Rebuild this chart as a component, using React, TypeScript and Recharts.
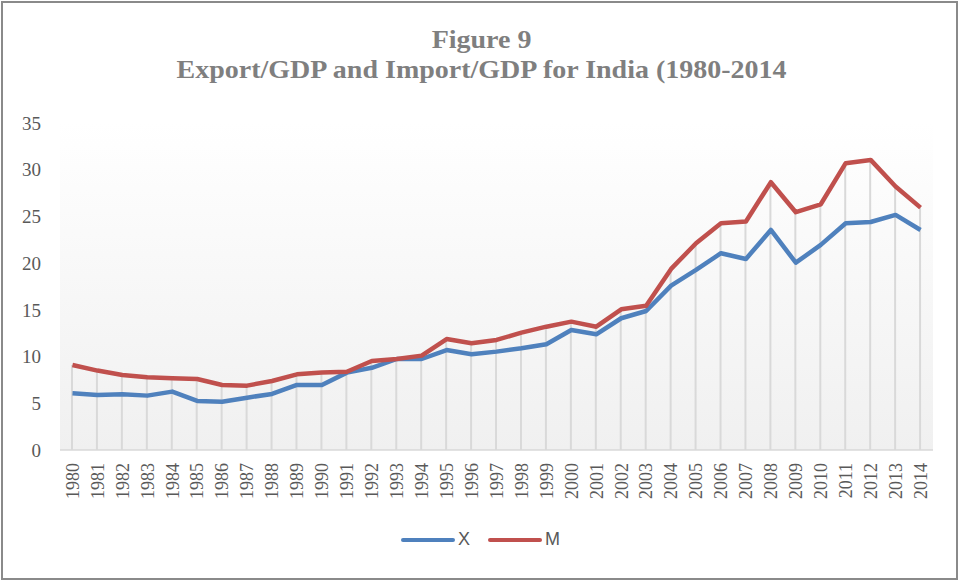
import { ComposedChart, Line, Bar, XAxis, YAxis, CartesianGrid, Legend } from 'recharts';

const years = [
  '1980', '1981', '1982', '1983', '1984', '1985', '1986', '1987', '1988', '1989',
  '1990', '1991', '1992', '1993', '1994', '1995', '1996', '1997', '1998', '1999',
  '2000', '2001', '2002', '2003', '2004', '2005', '2006', '2007', '2008', '2009',
  '2010', '2011', '2012', '2013', '2014',
];

// Export/GDP (%)
const exportsX = [
  6.07, 5.89, 5.96, 5.82, 6.25, 5.25, 5.17, 5.6, 6.0, 6.96,
  6.96, 8.28, 8.8, 9.74, 9.74, 10.7, 10.24, 10.53, 10.89, 11.32,
  12.85, 12.38, 14.1, 14.88, 17.6, 19.27, 21.06, 20.45, 23.55, 20.05,
  21.95, 24.27, 24.4, 25.16, 23.55,
];

// Import/GDP (%)
const importsM = [
  9.1, 8.5, 8.03, 7.78, 7.67, 7.6, 6.96, 6.89, 7.39, 8.1,
  8.3, 8.38, 9.53, 9.74, 10.1, 11.88, 11.42, 11.78, 12.56, 13.2,
  13.74, 13.2, 15.06, 15.45, 19.38, 22.13, 24.27, 24.45, 28.66, 25.45,
  26.3, 30.7, 31.05, 28.2, 25.94,
];

const seriesNames = ['X', 'M'];
const yTicks = [0, 5, 10, 15, 20, 25, 30, 35];

const data = years.map((year, i) => ({
  year,
  X: exportsX[i],
  M: importsM[i],
}));

const BLUE = '#4f81bd';
const RED = '#c0504d';
const TEXT = '#595959';

const YearTick = (props: any) => {
  const { x, y, payload } = props;
  return (
    <g transform={`translate(${x},${y})`}>
      <text
        transform="rotate(-90)"
        x={-5}
        y={0}
        dy="0.35em"
        textAnchor="end"
        fill={TEXT}
        fontSize={18}
        fontFamily="'Liberation Serif', 'Times New Roman', serif"
      >
        {payload.value}
      </text>
    </g>
  );
};

const LegendContent = (props: any) => {
  const items = (props.payload || [])
    .filter((p: any) => p.type !== 'none')
    .sort((a: any, b: any) => seriesNames.indexOf(a.value) - seriesNames.indexOf(b.value));
  return (
    <div style={{ display: 'flex', justifyContent: 'center', alignItems: 'center' }}>
      {items.map((item: any) => (
        <div key={item.value} style={{ display: 'flex', alignItems: 'center', margin: '0 9px' }}>
          <div style={{ width: 54, height: 4, borderRadius: 2, background: item.color, marginRight: 3 }} />
          <span style={{ fontSize: 18, color: TEXT, fontFamily: "'Liberation Sans', Arial, sans-serif" }}>
            {item.value}
          </span>
        </div>
      ))}
    </div>
  );
};

export default function App() {
  return (
    <div style={{ position: 'absolute', left: 0, top: 0, width: 961, height: 582, background: '#fff' }}>
      <div
        style={{
          position: 'absolute',
          left: 1,
          top: 1,
          width: 957,
          height: 579,
          border: '2px solid #8a8a8a',
          boxSizing: 'border-box',
        }}
      />
      <div
        style={{
          position: 'absolute',
          left: 0,
          top: 25,
          width: 963,
          textAlign: 'center',
          fontFamily: "'Liberation Serif', 'Times New Roman', serif",
          fontWeight: 'bold',
          fontSize: 25,
          lineHeight: '30px',
          color: '#7f7f7f',
          transform: 'scaleX(1.12)',
          transformOrigin: '481px 0',
        }}
      >
        <div>Figure 9</div>
        <div>Export/GDP and Import/GDP for India (1980-2014</div>
      </div>
      <div style={{ position: 'absolute', left: 0, top: 0 }}>
        <ComposedChart width={961} height={582} data={data} margin={{ top: 123, right: 28, bottom: 0, left: 0 }}>
          <defs>
            <linearGradient id="plotBg" x1="0" y1="0" x2="0" y2="1">
              <stop offset="0%" stopColor="#ffffff" />
              <stop offset="100%" stopColor="#f0f0f0" />
            </linearGradient>
          </defs>
          <CartesianGrid horizontal={false} vertical={false} fill="url(#plotBg)" stroke="none" />
          <XAxis
            dataKey="year"
            height={132}
            interval={0}
            tickLine={false}
            axisLine={{ stroke: '#d9d9d9', strokeWidth: 1.5 }}
            tick={<YearTick />}
          />
          <YAxis
            width={60}
            domain={[0, 35]}
            ticks={yTicks}
            axisLine={false}
            tickLine={false}
            tickMargin={13}
            tick={{ fill: TEXT, fontSize: 19, fontFamily: "'Liberation Serif', 'Times New Roman', serif" }}
          />
          <Bar dataKey="M" barSize={2} fill="#d9d9d9" isAnimationActive={false} legendType="none" />
          <Line
            type="linear"
            dataKey="X"
            stroke={BLUE}
            strokeWidth={4.5}
            strokeLinejoin="round"
            dot={false}
            activeDot={false}
            isAnimationActive={false}
          />
          <Line
            type="linear"
            dataKey="M"
            stroke={RED}
            strokeWidth={4.5}
            strokeLinejoin="round"
            dot={false}
            activeDot={false}
            isAnimationActive={false}
          />
          <Legend
            layout="horizontal"
            verticalAlign="middle"
            content={<LegendContent />}
            wrapperStyle={{ top: 529, left: 0, width: 961 }}
          />
        </ComposedChart>
      </div>
    </div>
  );
}
